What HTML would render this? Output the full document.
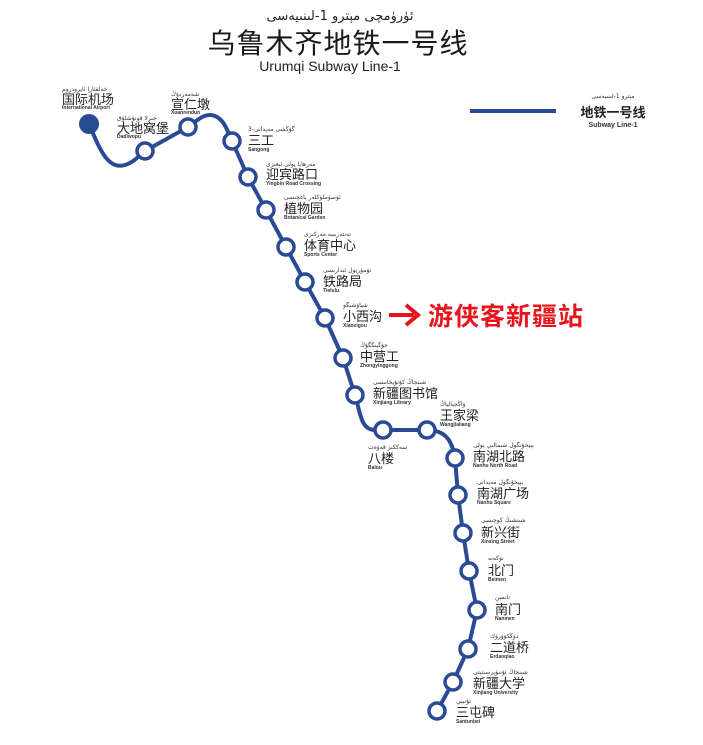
<!DOCTYPE html>
<html><head><meta charset="utf-8"><style>
html,body{margin:0;padding:0;background:#fff;}
svg{display:block;}
.cn{font-family:"Liberation Sans","Noto Sans CJK SC",sans-serif;font-size:13px;fill:#222;}
.en{font-family:"Liberation Sans",sans-serif;font-size:5px;fill:#333;font-weight:bold;}
.ug{font-family:"DejaVu Sans",sans-serif;font-size:6px;fill:#333;}
</style></head><body>
<svg width="703" height="745" viewBox="0 0 703 745" xmlns="http://www.w3.org/2000/svg">
<text x="340" y="20" text-anchor="middle" font-family="DejaVu Sans,sans-serif" font-size="13" fill="#222">ئۈرۈمچى مېترو 1-لىنىيەسى</text>
<text x="338" y="53" text-anchor="middle" font-family="Liberation Sans,Noto Sans CJK SC,sans-serif" font-size="28" fill="#1a1a1a" letter-spacing="1">乌鲁木齐地铁一号线</text>
<text x="330" y="71" text-anchor="middle" font-family="Liberation Sans,sans-serif" font-size="14" fill="#222">Urumqi Subway Line-1</text>

<line x1="470" y1="111" x2="556" y2="111" stroke="#2a4a94" stroke-width="4"/>
<text x="613" y="98" text-anchor="middle" class="ug">مېترو 1-لىنىيەسى</text>
<text x="613" y="117" text-anchor="middle" font-family="Liberation Sans,Noto Sans CJK SC,sans-serif" font-size="13" font-weight="bold" fill="#222">地铁一号线</text>
<text x="613" y="127" text-anchor="middle" font-family="Liberation Sans,sans-serif" font-size="7" font-weight="bold" fill="#333">Subway Line-1</text>

<path d="M89,124 C100,150 108,170 125,165 C135,162 140,154 145,151 L188,127 C198,120 205,112 215,116 C225,120 228,133 232,141 L248,177 L266,210 L286,247 L305,282 L325,318 L343,358 L355,395 C360,410 360,430 375,430 L427,430 C445,430 452,440 455,458 L458,495 L463,533 L469,571 L477,610 L468,649 L453,682 L437,711" fill="none" stroke="#2a4a94" stroke-width="4" stroke-linejoin="round"/>

<circle cx="89" cy="124" r="10" fill="#2a4a94"/>
<g fill="#fff" stroke="#2a4a94" stroke-width="3.5">
<circle cx="145" cy="151" r="8"/><circle cx="188" cy="127" r="8"/><circle cx="232" cy="141" r="8"/>
<circle cx="248" cy="177" r="8"/><circle cx="266" cy="210" r="8"/><circle cx="286" cy="247" r="8"/>
<circle cx="305" cy="282" r="8"/><circle cx="325" cy="318" r="8"/><circle cx="343" cy="358" r="8"/>
<circle cx="355" cy="395" r="8"/><circle cx="383" cy="430" r="8"/><circle cx="427" cy="430" r="8"/>
<circle cx="455" cy="458" r="8"/><circle cx="458" cy="495" r="8"/><circle cx="463" cy="533" r="8"/>
<circle cx="469" cy="571" r="8"/><circle cx="477" cy="610" r="8"/><circle cx="468" cy="649" r="8"/>
<circle cx="453" cy="682" r="8"/><circle cx="437" cy="711" r="8"/>
</g>

<g>
<text x="62" y="91" class="ug">خەلقئارا ئايرودروم</text><text x="62" y="104" class="cn">国际机场</text><text x="62" y="109" class="en">International Airport</text>
<text x="117" y="120" class="ug">جىرلا قونۇشلۇق</text><text x="117" y="133" class="cn">大地窝堡</text><text x="117" y="138" class="en">Dadiwopu</text>
<text x="171" y="96" class="ug">شەمەردۇڭ</text><text x="171" y="109" class="cn">宣仁墩</text><text x="171" y="114" class="en">Xuanrendun</text>
<text x="248" y="131" class="ug">3-گۇڭشى مەيدانى</text><text x="248" y="145" class="cn">三工</text><text x="248" y="151" class="en">Sangong</text>
<text x="266" y="166" class="ug">مەرھابا يولى ئېغىزى</text><text x="266" y="179" class="cn">迎宾路口</text><text x="266" y="185" class="en">Yingbin Road Crossing</text>
<text x="284" y="199" class="ug">ئۆسۈملۈكلەر باغچىسى</text><text x="284" y="213" class="cn">植物园</text><text x="284" y="219" class="en">Botanical Garden</text>
<text x="304" y="236" class="ug">تەنتەربىيە مەركىزى</text><text x="304" y="250" class="cn">体育中心</text><text x="304" y="256" class="en">Sports Center</text>
<text x="323" y="272" class="ug">تۆمۈريول ئىدارىسى</text><text x="323" y="286" class="cn">铁路局</text><text x="323" y="292" class="en">Tielulu</text>
<text x="343" y="307" class="ug">شياۋشىگو</text><text x="343" y="321" class="cn">小西沟</text><text x="343" y="327" class="en">Xiaoxigou</text>
<text x="360" y="347" class="ug">جۇڭيىڭگۇڭ</text><text x="360" y="361" class="cn">中营工</text><text x="360" y="367" class="en">Zhongyinggong</text>
<text x="373" y="384" class="ug">شىنجاڭ كۇتۇپخانىسى</text><text x="373" y="398" class="cn">新疆图书馆</text><text x="373" y="404" class="en">Xinjiang Library</text>
<text x="368" y="449" class="ug">سەككىز قەۋەت</text><text x="368" y="463" class="cn">八楼</text><text x="368" y="469" class="en">Balou</text>
<text x="440" y="406" class="ug">ۋاڭجيالياڭ</text><text x="440" y="420" class="cn">王家梁</text><text x="440" y="426" class="en">Wangjialiang</text>
<text x="473" y="447" class="ug">بېيخۇنگول شىمالىي يولى</text><text x="473" y="461" class="cn">南湖北路</text><text x="473" y="467" class="en">Nanhu North Road</text>
<text x="477" y="484" class="ug">بېيخۇنگول مەيدانى</text><text x="477" y="498" class="cn">南湖广场</text><text x="477" y="504" class="en">Nanhu Square</text>
<text x="481" y="522" class="ug">شىنشىڭ كوچىسى</text><text x="481" y="537" class="cn">新兴街</text><text x="481" y="543" class="en">Xinxing Street</text>
<text x="488" y="560" class="ug">نۆكەنە</text><text x="488" y="575" class="cn">北门</text><text x="488" y="581" class="en">Beimen</text>
<text x="495" y="599" class="ug">نانمېن</text><text x="495" y="614" class="cn">南门</text><text x="495" y="620" class="en">Nanmen</text>
<text x="490" y="638" class="ug">دۆڭكۆۋرۈك</text><text x="490" y="652" class="cn">二道桥</text><text x="490" y="658" class="en">Erdaoqiao</text>
<text x="473" y="674" class="ug">شىنجاڭ ئۇنىۋېرسىتېتى</text><text x="473" y="688" class="cn">新疆大学</text><text x="473" y="694" class="en">Xinjiang University</text>
<text x="456" y="703" class="ug">تۇنبېي</text><text x="456" y="717" class="cn">三屯碑</text><text x="456" y="723" class="en">Santunbei</text>
</g>

<line x1="389" y1="315" x2="414" y2="315" stroke="#e8141c" stroke-width="4"/>
<polyline points="406,305 418,315 406,325" fill="none" stroke="#e8141c" stroke-width="4" stroke-linejoin="miter"/>
<text x="428" y="325" font-family="Liberation Sans,Noto Sans CJK SC,sans-serif" font-size="25" font-weight="bold" fill="#e8141c" letter-spacing="1">游侠客新疆站</text>
</svg>
</body></html>
